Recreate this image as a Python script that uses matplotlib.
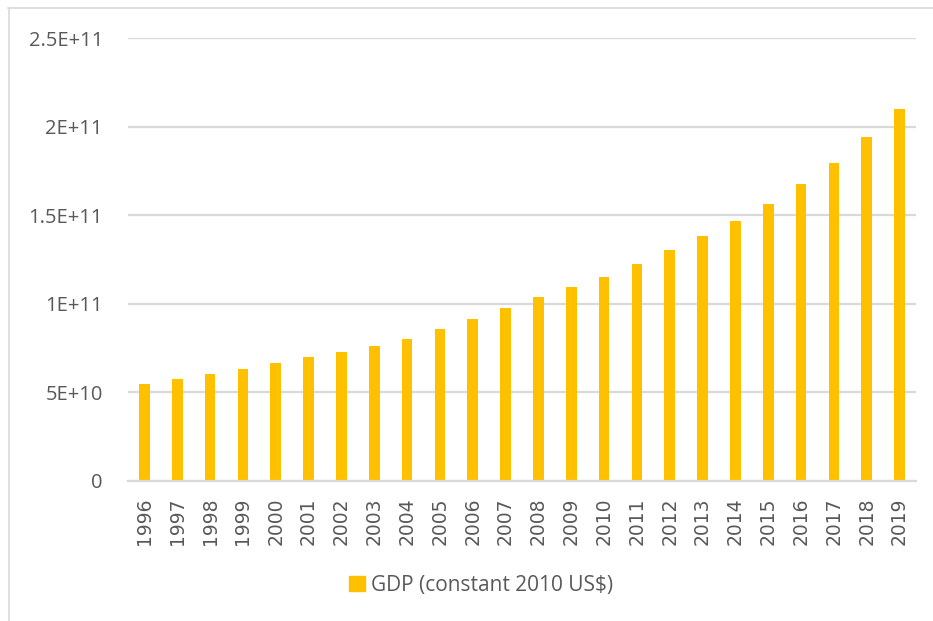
import matplotlib
matplotlib.use("Agg")
import matplotlib.pyplot as plt
from matplotlib.lines import Line2D
from matplotlib.patches import Patch

years = [str(y) for y in range(1996, 2020)]
gdp = [5.49e10, 5.75e10, 6.05e10, 6.34e10, 6.67e10, 7.01e10, 7.29e10, 7.63e10,
       8.03e10, 8.57e10, 9.15e10, 9.79e10, 1.039e11, 1.092e11, 1.154e11, 1.227e11,
       1.306e11, 1.383e11, 1.468e11, 1.564e11, 1.674e11, 1.796e11, 1.939e11, 2.099e11]
y_ticks = [0, 5e10, 1e11, 1.5e11, 2e11, 2.5e11]
y_tick_labels = ["0", "5E+10", "1E+11", "1.5E+11", "2E+11", "2.5E+11"]
series_name = "GDP (constant 2010 US$)"

BAR = "#FFC000"
GRID = "#D9D9D9"
TEXT = "#595959"
label_font = ["Open Sans", "DejaVu Sans"]

W, H = 933, 621
fig = plt.figure(figsize=(W / 100, H / 100), dpi=100)
ax = fig.add_axes([128 / W, 1 - 481 / H, (916 - 128) / W, (481 - 38) / H])

x = list(range(len(years)))
ax.bar(x, gdp, width=0.32, color=BAR, zorder=3)

ax.set_xlim(-0.5, len(years) - 0.5)
ax.set_ylim(0, 2.5e11)
ax.set_yticks(y_ticks)
ax.set_yticklabels(y_tick_labels, fontsize=14.5, color=TEXT, family=label_font)
ax.set_xticks(x)
ax.set_xticklabels(years, rotation=90, fontsize=13.5, color=TEXT, family="DejaVu Sans")
ax.tick_params(axis="both", length=0)
ax.tick_params(axis="y", pad=18)
ax.tick_params(axis="x", pad=12)

ax.grid(axis="y", color=GRID, linewidth=1.6, zorder=0)
for side in ["top", "right", "left"]:
    ax.spines[side].set_visible(False)
ax.spines["bottom"].set_color(GRID)
ax.spines["bottom"].set_linewidth(1.6)
ax.spines["bottom"].set_zorder(4)

# chart frame (top and left edges)
fig.add_artist(Line2D([8 / W, 1], [1 - 8 / H, 1 - 8 / H], color=GRID, lw=1.2,
                      transform=fig.transFigure))
fig.add_artist(Line2D([8.5 / W, 8.5 / W], [0, 1 - 8 / H], color=GRID, lw=1.2,
                      transform=fig.transFigure))

fig.legend(handles=[Patch(color=BAR, label=series_name)], loc="center",
           bbox_to_anchor=(481 / W, 1 - 585 / H), frameon=False,
           prop={"family": label_font, "size": 15}, labelcolor=TEXT,
           handlelength=0.75, handleheight=0.75, handletextpad=0.3)

fig.savefig("out.png", dpi=100)
